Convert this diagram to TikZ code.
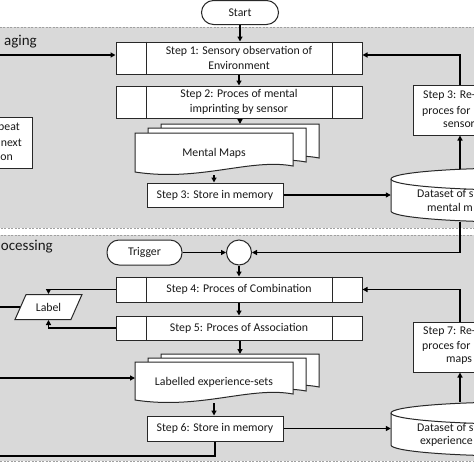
\documentclass[tikz,border=0pt]{standalone}
\usepackage{fontspec}
\setmainfont{Carlito}
\usetikzlibrary{arrows.meta,shapes.geometric,calc}
\definecolor{panelgray}{RGB}{217,217,217}
\definecolor{panelline}{RGB}{160,160,160}
\definecolor{txt}{RGB}{25,25,25}
\definecolor{edge}{RGB}{40,40,40}
\begin{document}
\begin{tikzpicture}[x=1pt,y=-1pt,
  every node/.style={text=txt, font=\fontsize{11.8}{14.5}\selectfont},
  panel/.style={fill=panelgray, draw=panelline, line width=0.8pt, dash pattern=on 2pt off 1.5pt},
  procbox/.style={draw=edge, fill=white, line width=1pt, minimum width=246pt, inner sep=0pt, align=center},
  plainbox/.style={draw=edge, fill=white, line width=1pt, inner sep=0pt, align=center},
  term/.style={draw=edge, fill=white, line width=1pt, rounded corners=12pt, inner sep=0pt},
  shapefill/.style={draw=edge, fill=white, line width=1pt},
  divider/.style={draw=edge, line width=1pt},
  conn/.style={draw=black, line width=1.4pt},
  arr/.style={conn, -{Triangle[length=5pt,width=5pt]}},
  fragw/.style={anchor=west, inner sep=0pt},
  frage/.style={anchor=east, inner sep=0pt},
  ttl/.style={anchor=east, inner sep=0pt, font=\fontsize{15}{18}\selectfont},
]
\useasboundingbox (0,0) rectangle (474,474);
\clip (0,0) rectangle (474,474);

% ---------- panels
\path[panel] (-5,27) rectangle (480,228);
\path[panel] (-5,235) rectangle (480,461);
\node[ttl] (ttl1) at (37,42) {aging};
\node[ttl] (ttl2) at (53,247) {ocessing};

% ---------- top panel
\node[term, minimum width=77pt, minimum height=24pt] (start) at (240,12.5) {Start};
\node[procbox, minimum height=32pt] (s1) at (239,58) {Step 1: Sensory observation of\\Environment};
\node[procbox, minimum height=32pt] (s2) at (239,102) {Step 2: Proces of mental\\imprinting by sensor};

% mental maps (multi-document)
\path[shapefill] (161,124) -- (319,124) -- (319,158) .. controls (280,150) and (230,172) .. (161,164) -- cycle;
\path[shapefill] (148,128) -- (306,128) -- (306,162) .. controls (265,154) and (215,176) .. (148,168) -- cycle;
\path[shapefill] (135,133) -- (293,133) -- (293,166) .. controls (250,158) and (200,182) .. (135,172) -- cycle;
\node (mm) at (214,153) {Mental Maps};
\coordinate (mmtop) at (240,124);
\coordinate (mmbot) at (214,175);

\node[plainbox, minimum width=136pt, minimum height=24pt] (st3) at (215,195) {Step 3: Store in memory};

% dataset cylinder 1
\path[shapefill] (391,179) -- (391,211) .. controls (391,217.1) and (448.8,222) .. (520,222) .. controls (591.2,222) and (649,217.1) .. (649,211) -- (649,179) .. controls (649,172.9) and (591.2,168) .. (520,168) .. controls (448.8,168) and (391,172.9) .. (391,179) -- cycle;
\draw[divider] (391,179) .. controls (391,185.1) and (448.8,190) .. (520,190) .. controls (591.2,190) and (649,185.1) .. (649,179);
\node[inner sep=0pt, minimum width=258pt, minimum height=54pt] (ds1) at (520,195) {};
\node[fragw] (ds1a) at (417,193) {Dataset of s};
\node[fragw] (ds1b) at (427,207) {mental m};

% re-process box 1
\node[plainbox, minimum width=94pt, minimum height=50pt] (rp3) at (460,110) {};
\node[fragw] (rp3a) at (423,96) {Step 3: Re-};
\node[fragw] (rp3b) at (422,111) {proces for};
\node[fragw] (rp3c) at (443,125) {sensor};

% repeat box
\node[plainbox, minimum width=52pt, minimum height=51pt] (rep) at (6,142.5) {};
\node[frage] (repa) at (20,128) {peat};
\node[frage] (repb) at (22,143) {next};
\node[frage] (repc) at (13,158) {on};

% dividers of the process boxes
\foreach \n in {s1,s2} {
  \draw[divider] ([xshift=31pt]\n.north west) -- ([xshift=31pt]\n.south west);
  \draw[divider] ([xshift=-30pt]\n.north east) -- ([xshift=-30pt]\n.south east);
}

% connectors top
\draw[arr] (start.south) -- (start.south |- s1.north);
\draw[arr] (s1.south) -- (s2.north);
\draw[arr] (s2.south -| mmtop) -- (mmtop);
\draw[arr] (mmbot) -- (mmbot |- st3.north);
\draw[arr] (st3.east) -- (st3.east -| ds1.west);
\coordinate (ds1t) at (460,169);
\draw[arr] (ds1t) -- (rp3.south);
\draw[arr] (rp3.north) |- ([yshift=3pt]s1.east);
\coordinate (lin1) at (0,55);
\draw[arr] (lin1) -- (lin1 -| s1.west);

% ---------- bottom panel
\node[term, minimum width=75pt, minimum height=25pt] (trig) at (144.5,252.5) {Trigger};
\node[circle, draw=edge, fill=white, line width=1pt, minimum size=25pt, inner sep=0pt] (circ) at (239,252.5) {};
\node[procbox, minimum height=25pt] (s4) at (239,289.5) {Step 4: Proces of Combination};
\node[procbox, minimum height=24pt] (s5) at (239,328) {Step 5: Proces of Association};
\foreach \n in {s4,s5} {
  \draw[divider] ([xshift=31pt]\n.north west) -- ([xshift=31pt]\n.south west);
  \draw[divider] ([xshift=-30pt]\n.north east) -- ([xshift=-30pt]\n.south east);
}
\coordinate (lin3) at (0,307);
\coordinate (labw) at (26,307);
\draw[conn] (lin3) -- (labw);
\node[trapezium, trapezium left angle=53, trapezium right angle=127, trapezium stretches=true,
      minimum width=67pt, minimum height=25pt, shapefill, inner sep=0pt] (lab) at (48.5,307) {Label};

% labelled experience-sets (multi-document)
\path[shapefill] (161,354) -- (319,354) -- (319,387) .. controls (280,379) and (230,401) .. (161,393) -- cycle;
\path[shapefill] (148,358) -- (306,358) -- (306,391) .. controls (265,383) and (215,405) .. (148,397) -- cycle;
\path[shapefill] (135,362) -- (293,362) -- (293,394) .. controls (250,386) and (200,410) .. (135,400) -- cycle;
\node (le) at (214,382) {Labelled experience-sets};
\coordinate (letop) at (240,354);
\coordinate (lebot) at (214,403);
\coordinate (lew) at (135,378);

\node[plainbox, minimum width=136pt, minimum height=25pt] (s6) at (215,428.5) {Step 6: Store in memory};

% dataset cylinder 2
\path[shapefill] (391,413) -- (391,445) .. controls (391,451.1) and (448.8,456) .. (520,456) .. controls (591.2,456) and (649,451.1) .. (649,445) -- (649,413) .. controls (649,406.9) and (591.2,402) .. (520,402) .. controls (448.8,402) and (391,406.9) .. (391,413) -- cycle;
\draw[divider] (391,413) .. controls (391,419.1) and (448.8,424) .. (520,424) .. controls (591.2,424) and (649,419.1) .. (649,413);
\node[inner sep=0pt, minimum width=258pt, minimum height=54pt] (ds2) at (520,429) {};
\node[fragw] (ds2a) at (417,427) {Dataset of s};
\node[fragw] (ds2b) at (420,441) {experience};

% re-process box 2
\node[plainbox, minimum width=94pt, minimum height=50pt] (s7) at (460,347) {};
\node[fragw] (s7a) at (423,332) {Step 7: Re-};
\node[fragw] (s7b) at (422,346) {proces for};
\node[fragw] (s7c) at (446,361) {maps};

% connectors bottom
\draw[arr] (trig) -- (circ);
\coordinate (ds1bot) at (460,222);
\draw[arr] (ds1bot) |- (circ.east);
\draw[arr] (circ.south) -- (circ.south |- s4.north);
\draw[arr] (s4.south) -- (s5.north);
\draw[arr] (s4.west) -| (lab.center |- lab.north);
\draw[arr] (s5.west) -| (lab.center |- lab.south);
\draw[arr] (s5.south -| letop) -- (letop);
\coordinate (lin4) at (0,378);
\draw[arr] (lin4) -- (lew);
\draw[arr] (lebot) -- (lebot |- s6.north);
\coordinate (lout) at (0,456);
\draw[conn] (s6.south) |- (lout);
\draw[arr] (s6.east) -- (s6.east -| ds2.west);
\coordinate (ds2t) at (460,402);
\draw[arr] (ds2t) -- (s7.south);
\draw[arr] (s7.north) |- (s4.east);
\end{tikzpicture}
\end{document}
